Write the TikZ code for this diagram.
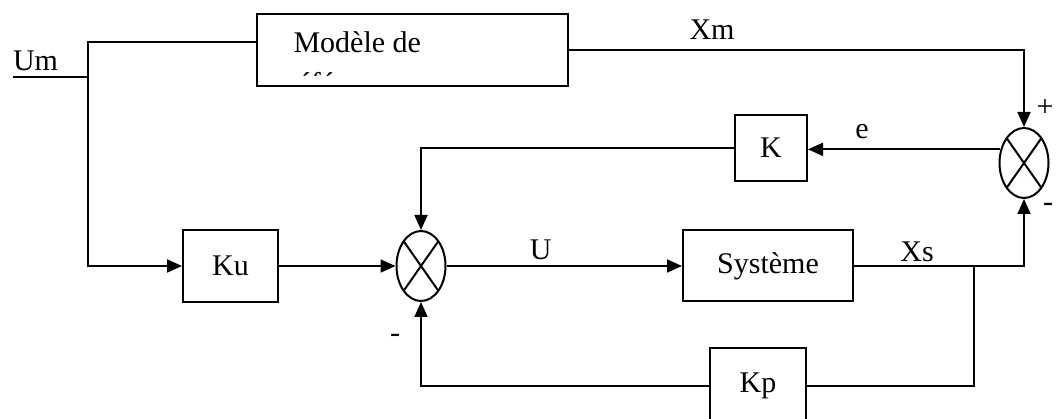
\documentclass[tikz,border=0pt]{standalone}
\usepackage{fontspec}
\setmainfont{Liberation Serif}
\usetikzlibrary{arrows.meta,calc,positioning,shapes.geometric}
\tikzset{
  block/.style={draw,line width=2pt,inner sep=0pt},
  summer/.style={ellipse,draw,line width=2pt,inner sep=0pt,minimum width=49pt,minimum height=70pt,
    path picture={\draw[line width=2pt]
      ($(path picture bounding box.center)!0.707!(path picture bounding box.north west)$) --
      ($(path picture bounding box.center)!0.707!(path picture bounding box.south east)$)
      ($(path picture bounding box.center)!0.707!(path picture bounding box.north east)$) --
      ($(path picture bounding box.center)!0.707!(path picture bounding box.south west)$);}},
  wire/.style={line width=1.8pt}
}
\begin{document}
\begin{tikzpicture}[x=1pt,y=1pt,>={Triangle[length=15pt,width=13pt]},font=\fontsize{30}{34}\selectfont]
      \useasboundingbox (0,0) rectangle (1056,419);
      \node[block,minimum width=311pt,minimum height=72pt] (model) at (412.5,369) {};
      \node[anchor=base west] (modtxt) at (290,366) {Modèle de};
      \begin{scope}
        \clip (model.north west) rectangle ([yshift=11pt]model.south east);
        \node[anchor=base west] (modtxtb) at (284,325) {référence};
      \end{scope}
      \node[block,minimum width=95pt,minimum height=72pt] (ku) at (230.5,153) {Ku};
      \node[summer] (sl) at (421,153) {};
      \node[block,minimum width=170pt,minimum height=71pt] (sys) at (768,153) {Système};
      \node[summer] (sr) at (1024,256) {};
      \node[block,minimum width=72pt,minimum height=66pt] (k) at (771,271) {K};
      \node[block,minimum width=96pt,minimum height=76pt] (kp) at (758,33) {Kp};
      \coordinate (um) at (13,342);
      \coordinate (split) at (88,342);
      \coordinate (br) at (974,153);
      \draw[wire] (um) -- (split) node[pos=0.3,above=2pt] (umlbl) {Um};
      \draw[wire] ([yshift=8pt]model.west) -| (split);
      \draw[wire,->] (split) |- (ku.west);
      \draw[wire,->] (ku.east) -- (sl.west);
      \draw[wire,->] (sl.east) -- (sys.west) node[pos=0.4,above=2pt] (ulbl) {U};
      \draw[wire,->] (sys.east) -| (sr.south);
      \node (xslbl) at (917,167) {Xs};
      \draw[wire,->] (model.east) -| (sr.north);
      \node (xmlbl) at (712,389) {Xm};
      \draw[wire,->] (sr.150) -- (sr.150 -| k.east);
      \node (elbl) at (862,287) {e};
      \draw[wire,->] (k.west) -| (sl.north);
      \draw[wire] (br) |- (kp.east);
      \draw[wire,->] (kp.west) -| (sl.south);
      \node (plus) at (1045,311) {+};
      \node (minr) at (1048,212) {-};
      \node (minl) at (395,81) {-};
    \end{tikzpicture}
\end{document}
